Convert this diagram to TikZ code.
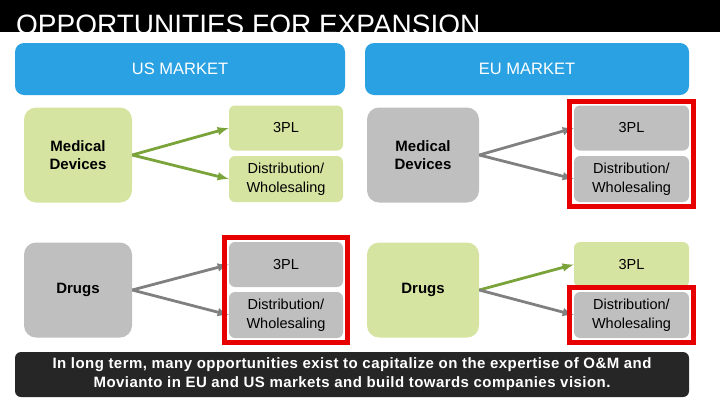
\documentclass[tikz,border=0pt]{standalone}
\usepackage{fontspec}
\setmainfont{Liberation Sans}
\usetikzlibrary{arrows}
\usetikzlibrary{fit}
\definecolor{mktblue}{RGB}{41,161,226}
\definecolor{boxgreen}{RGB}{214,228,161}
\definecolor{boxgray}{RGB}{191,191,191}
\definecolor{arrgreen}{RGB}{122,163,58}
\definecolor{arrgray}{RGB}{128,128,128}
\definecolor{hilite}{RGB}{230,0,0}
\definecolor{notebg}{RGB}{38,38,38}

\tikzset{
 market/.style={fill=mktblue, rounded corners=9pt, inner sep=0pt, minimum width=330pt, minimum height=52pt, text=white, font=\fontsize{16.5}{18}\selectfont},
 srcbox/.style={rounded corners=12pt, inner sep=0pt, minimum width=108pt, minimum height=95pt, align=center, font=\bfseries\fontsize{15}{18}\selectfont},
 optbox/.style={rounded corners=6pt, inner sep=0pt, minimum width=114pt, minimum height=45pt, align=center, font=\fontsize{14.5}{19}\selectfont},
 grn/.style={fill=boxgreen},
 gry/.style={fill=boxgray},
 grnarrow/.style={-latex, line width=2.8pt, color=arrgreen},
 gryarrow/.style={-latex, line width=2.8pt, color=arrgray},
 redframe/.style={draw=hilite, line width=5pt, inner sep=4pt}
}

\begin{document}
\begin{tikzpicture}[x=1pt, y=-1pt]
 \useasboundingbox (0,0) rectangle (720,405);

 %title bar
 \fill[black] (0,0) rectangle (720,32);
 \node[anchor=base west, inner sep=0pt, text=white, font=\fontsize{28}{30}\selectfont] (title) at (16,34.5) {OPPORTUNITIES FOR EXPANSION};

 %markets
 \node[market] (usmkt) at (180,69) {US MARKET};
 \node[market, minimum width=324pt] (eumkt) at (527,69) {EU MARKET};

 %US market
 \node[srcbox, grn] (usmed) at (78,155) {Medical\\Devices};
 \node[optbox, grn] (usmedtpl) at (286,128) {3PL};
 \node[optbox, grn, minimum height=46pt] (usmeddist) at (286,179) {Distribution/\\Wholesaling};
 \draw[grnarrow] (usmed.east) -- (usmedtpl.west);
 \draw[grnarrow] (usmed.east) -- (usmeddist.west);

 \node[srcbox, gry] (usdrug) at (78,290) {Drugs};
 \node[optbox, gry] (usdrugtpl) at (286,264.5) {3PL};
 \node[optbox, gry, minimum height=46pt] (usdrugdist) at (286,315) {Distribution/\\Wholesaling};
 \draw[gryarrow] (usdrug.east) -- (usdrugtpl.west);
 \draw[gryarrow] (usdrug.east) -- (usdrugdist.west);

 %EU market
 \node[srcbox, gry, minimum width=112pt] (eumed) at (423,155) {Medical\\Devices};
 \node[optbox, gry, minimum width=115pt] (eumedtpl) at (631.5,128) {3PL};
 \node[optbox, gry, minimum width=115pt, minimum height=46pt] (eumeddist) at (631.5,179) {Distribution/\\Wholesaling};
 \draw[gryarrow] (eumed.east) -- (eumedtpl.west);
 \draw[gryarrow] (eumed.east) -- (eumeddist.west);

 \node[srcbox, grn, minimum width=112pt] (eudrug) at (423,290) {Drugs};
 \node[optbox, grn, minimum width=115pt] (eudrugtpl) at (631.5,264.5) {3PL};
 \node[optbox, gry, minimum width=115pt, minimum height=46pt] (eudrugdist) at (631.5,315) {Distribution/\\Wholesaling};
 \draw[grnarrow] (eudrug.east) -- (eudrugtpl.west);
 \draw[gryarrow] (eudrug.east) -- (eudrugdist.west);

 %highlights
 \node[redframe, fit=(eumedtpl)(eumeddist)] (eumedframe) {};
 \node[redframe, fit=(usdrugtpl)(usdrugdist)] (usdrugframe) {};
 \node[redframe, fit=(eudrugdist)] (eudrugframe) {};

 %note
 \node[fill=notebg, rounded corners=6pt, inner sep=0pt, minimum width=674pt, minimum height=45pt, text=white, align=center, font=\bfseries\fontsize{15}{19}\selectfont\addfontfeature{LetterSpace=3}] (note) at (352,374.5) {In long term, many opportunities exist to capitalize on the expertise of O\&M and\\Movianto in EU and US markets and build towards companies vision.};
\end{tikzpicture}
\end{document}
